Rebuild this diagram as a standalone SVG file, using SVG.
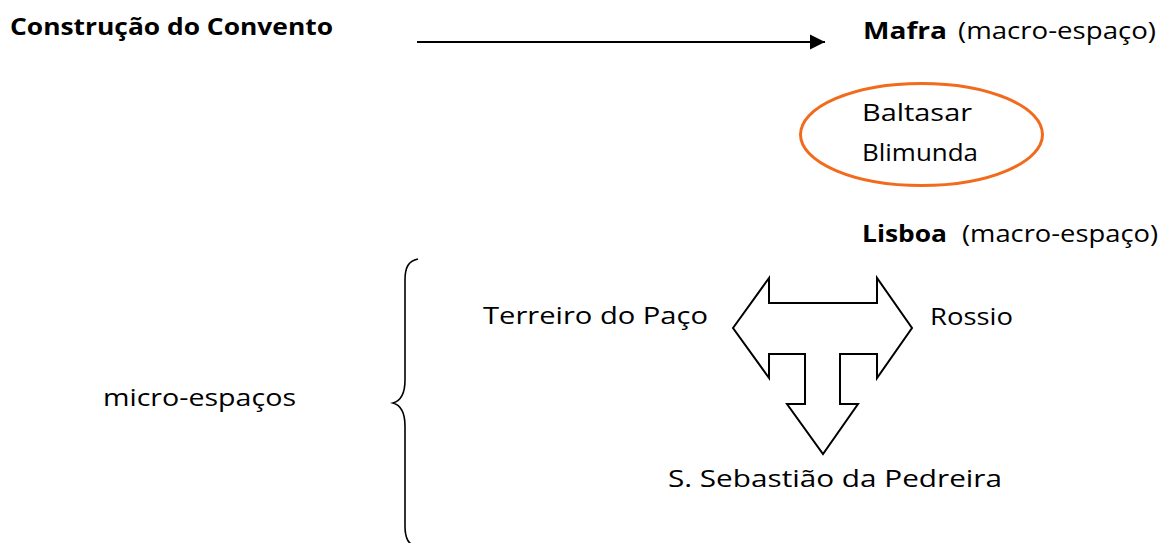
<svg xmlns="http://www.w3.org/2000/svg" width="1167" height="543" viewBox="0 0 1167 543">
<defs>
<style>
text{font-family:"Open Sans","DejaVu Sans",sans-serif;font-size:24px;fill:#000}
.b{font-weight:bold}
.ln{fill:none;stroke:#000;stroke-width:2.2}
</style>
<marker id="ah" viewBox="0 0 10 10" refX="10" refY="5" markerWidth="7" markerHeight="7" orient="auto" markerUnits="strokeWidth">
<path d="M0,0 L10,5 L0,10 Z" fill="#000"/>
</marker>
</defs>
<rect width="1167" height="543" fill="#fff"/>
<g id="construcao"><text class="b" x="10" y="35" textLength="323" lengthAdjust="spacingAndGlyphs">Construção do Convento</text></g>
<g id="mafra"><text class="b" x="863" y="39" textLength="84" lengthAdjust="spacingAndGlyphs">Mafra</text><text x="958" y="39" textLength="198" lengthAdjust="spacingAndGlyphs">(macro-espaço)</text></g>
<g id="personagens">
<ellipse cx="921.5" cy="134.5" rx="121" ry="51" fill="none" stroke="#F26B1D" stroke-width="3"/>
<text x="862" y="121" textLength="110" lengthAdjust="spacingAndGlyphs">Baltasar</text>
<text x="862" y="161" textLength="116" lengthAdjust="spacingAndGlyphs">Blimunda</text>
</g>
<g id="lisboa"><text class="b" x="862" y="242" textLength="85" lengthAdjust="spacingAndGlyphs">Lisboa</text><text x="962" y="242" textLength="196" lengthAdjust="spacingAndGlyphs">(macro-espaço)</text></g>
<g id="terreiro"><text x="483" y="324" textLength="225" lengthAdjust="spacingAndGlyphs">Terreiro do Paço</text></g>
<g id="rossio"><text x="930" y="325" textLength="83" lengthAdjust="spacingAndGlyphs">Rossio</text></g>
<g id="micro"><text x="103" y="406" textLength="193" lengthAdjust="spacingAndGlyphs">micro-espaços</text></g>
<g id="sebastiao"><text x="668" y="487" textLength="334" lengthAdjust="spacingAndGlyphs">S. Sebastião da Pedreira</text></g>
<g id="connectors">
<line class="ln" x1="417" y1="42" x2="825" y2="42" marker-end="url(#ah)"/>
<path d="M733,328 L769,278 L769,303 L877,303 L877,278 L912,328 L877,378 L877,354 L840,354 L840,404 L858,404 L823,454 L787,404 L805,404 L805,354 L769,354 L769,378 Z" fill="#fff" stroke="#000" stroke-width="2" stroke-linejoin="miter"/>
<path d="M418,259 C408,261 405,268 405,280 L405,380 C405,395 400,401 393,403 C400,405 405,411 405,426 L405,526 C405,538 408,545 418,547" fill="none" stroke="#000" stroke-width="1.6"/>
</g>
</svg>
